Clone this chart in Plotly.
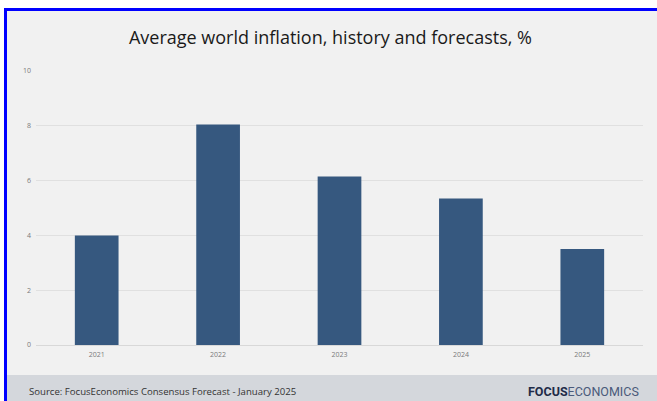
import plotly.graph_objects as go

years = ["2021", "2022", "2023", "2024", "2025"]
inflation = [4.0, 8.05, 6.15, 5.35, 3.5]
y_ticks = [0, 2, 4, 6, 8, 10]

W, H = 657, 401
L, R, T, B = 36, 14, 71, 56
PW, PH = W - L - R, H - T - B

def px(x):
    return (x - L) / PW

def py(y):
    return (H - B - y) / PH

fig = go.Figure(go.Bar(
    x=years, y=inflation,
    marker=dict(color="#36587f", line=dict(width=0)),
    width=0.36,
))

shapes = [
    # inner panel background
    dict(type="rect", xref="paper", yref="paper", x0=px(4), x1=px(W + 2), y0=py(8), y1=py(H + 2),
         fillcolor="#f1f1f1", line=dict(width=0), layer="below"),
    # footer band
    dict(type="rect", xref="paper", yref="paper", x0=px(7), x1=px(W + 2), y0=py(375), y1=py(H + 2),
         fillcolor="#d4d7dc", line=dict(width=0), layer="below"),
    # blue frame top
    dict(type="rect", xref="paper", yref="paper", x0=px(4), x1=px(W + 2), y0=py(8), y1=py(11),
         fillcolor="#0000ff", line=dict(width=0), layer="above"),
    # blue frame left
    dict(type="rect", xref="paper", yref="paper", x0=px(4), x1=px(7), y0=py(8), y1=py(H + 2),
         fillcolor="#0000ff", line=dict(width=0), layer="above"),
]

annotations = [
    dict(text="Source: FocusEconomics Consensus Forecast - January 2025",
         xref="paper", yref="paper", x=px(27), y=py(391), xanchor="left", yanchor="middle",
         showarrow=False, font=dict(family="Open Sans", size=9.6, color="#333333")),
    dict(text="<b>FOCUS</b><span style='color:#4a5a7a'>ECONOMICS</span>",
         xref="paper", yref="paper", x=px(641), y=py(391), xanchor="right", yanchor="middle",
         showarrow=False, font=dict(family="Roboto", size=12.5, color="#1e2b48")),
]

fig.update_layout(
    width=W, height=H,
    margin=dict(l=L, r=R, t=T, b=B),
    paper_bgcolor="white",
    plot_bgcolor="rgba(0,0,0,0)",
    title=dict(text="Average world inflation, history and forecasts, %",
               x=0.503, xanchor="center", y=1 - 38 / H, yanchor="middle",
               font=dict(family="Open Sans", size=18, color="#1a1a1a")),
    bargap=0.64,
    showlegend=False,
    shapes=shapes,
    annotations=annotations,
    xaxis=dict(showgrid=False, showline=False, zeroline=False,
               tickfont=dict(family="Open Sans", size=7, color="#7a7a7a"),
               ticks="", ticklabelstandoff=4),
    yaxis=dict(range=[0, 10], tickvals=y_ticks, showgrid=True, gridcolor="#e0e0e0", gridwidth=1,
               zeroline=True, zerolinecolor="#d8d8d8", zerolinewidth=1, showline=False,
               tickfont=dict(family="Open Sans", size=7, color="#7a7a7a"),
               ticks="", ticklabelstandoff=4),
)

fig.write_html("out.html")
